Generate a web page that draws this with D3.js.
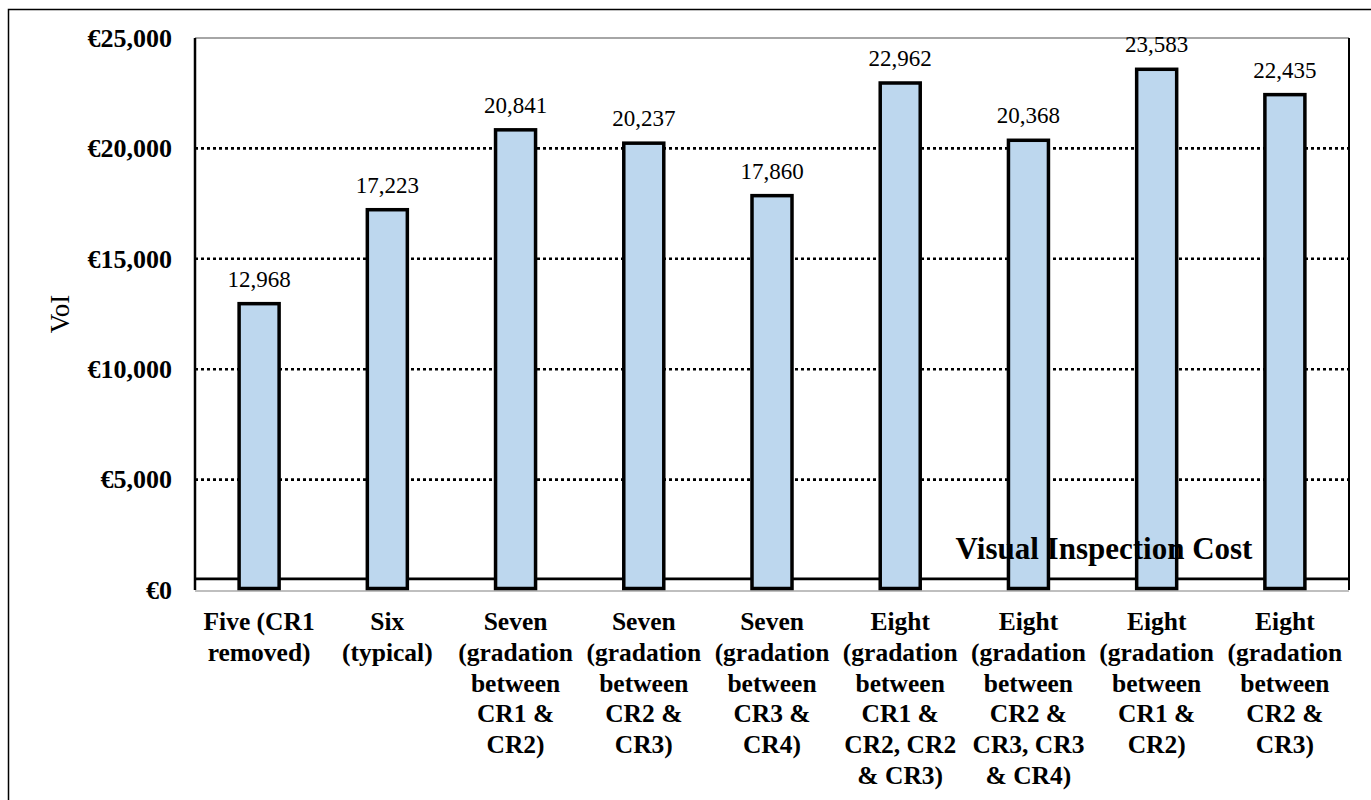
<!DOCTYPE html>
<html>
<head>
<meta charset="utf-8">
<script src="https://cdn.jsdelivr.net/npm/d3@7"></script>
<style>
  html, body { margin: 0; padding: 0; background: #fff; }
  svg { display: block; }
  svg text { font-family: "Liberation Serif", serif; }
</style>
</head>
<body>
<svg id="chart" width="1371" height="800"></svg>
<script>
// ---- data ----
const categories = [
  "Five (CR1 removed)",
  "Six (typical)",
  "Seven (gradation between CR1 & CR2)",
  "Seven (gradation between CR2 & CR3)",
  "Seven (gradation between CR3 & CR4)",
  "Eight (gradation between CR1 & CR2, CR2 & CR3)",
  "Eight (gradation between CR2 & CR3, CR3 & CR4)",
  "Eight (gradation between CR1 & CR2)",
  "Eight (gradation between CR2 & CR3)"
];
const categoryLines = [
  ["Five (CR1", "removed)"],
  ["Six", "(typical)"],
  ["Seven", "(gradation", "between", "CR1 &", "CR2)"],
  ["Seven", "(gradation", "between", "CR2 &", "CR3)"],
  ["Seven", "(gradation", "between", "CR3 &", "CR4)"],
  ["Eight", "(gradation", "between", "CR1 &", "CR2, CR2", "& CR3)"],
  ["Eight", "(gradation", "between", "CR2 &", "CR3, CR3", "& CR4)"],
  ["Eight", "(gradation", "between", "CR1 &", "CR2)"],
  ["Eight", "(gradation", "between", "CR2 &", "CR3)"]
];
const voiValues = [12968, 17223, 20841, 20237, 17860, 22962, 20368, 23583, 22435];
const yTicks = [0, 5000, 10000, 15000, 20000, 25000];
const inspectionCost = 500;
const costLabel = "Visual Inspection Cost";
const yTitle = "VoI";

// ---- layout ----
const FONT = "'Liberation Serif', serif";
const plot = { left: 195, right: 1349, top: 38, bottom: 590 };
const svg = d3.select("#chart");
const root = svg.append("g").attr("font-family", FONT);

// outer frame
root.append("rect")
  .attr("x", 8.5).attr("y", 9.5)
  .attr("width", 1400).attr("height", 900)
  .attr("fill", "none").attr("stroke", "#000").attr("stroke-width", 1.5);

const x = d3.scaleBand()
  .domain(categories)
  .range([plot.left, plot.right])
  .paddingInner(0.688)
  .paddingOuter(0.344);

const y = d3.scaleLinear()
  .domain([0, 25000])
  .range([plot.bottom, plot.top]);

const euro = v => "€" + d3.format(",")(v);

// gridlines (dotted), skip 0 and top
root.append("g")
  .selectAll("line")
  .data(yTicks.filter(t => t > 0 && t < 25000))
  .join("line")
  .attr("x1", plot.left).attr("x2", plot.right)
  .attr("y1", d => y(d)).attr("y2", d => y(d))
  .attr("stroke", "#000").attr("stroke-width", 2.6)
  .attr("stroke-dasharray", "3,3");

// top border (gray)
root.append("line")
  .attr("x1", plot.left).attr("x2", plot.right)
  .attr("y1", y(25000)).attr("y2", y(25000))
  .attr("stroke", "#a6a6a6").attr("stroke-width", 2);

// right border
root.append("line")
  .attr("x1", plot.right).attr("x2", plot.right)
  .attr("y1", y(25000)).attr("y2", y(0))
  .attr("stroke", "#000").attr("stroke-width", 2);

// bottom axis line (gray)
root.append("line")
  .attr("x1", plot.left).attr("x2", plot.right)
  .attr("y1", y(0) + 1).attr("y2", y(0) + 1)
  .attr("stroke", "#bfbfbf").attr("stroke-width", 2);

// inspection cost line
root.append("line")
  .attr("x1", plot.left).attr("x2", plot.right)
  .attr("y1", y(inspectionCost)).attr("y2", y(inspectionCost))
  .attr("stroke", "#000").attr("stroke-width", 2.7);

// y axis line
root.append("line")
  .attr("x1", plot.left).attr("x2", plot.left)
  .attr("y1", y(25000)).attr("y2", y(0))
  .attr("stroke", "#000").attr("stroke-width", 2.5);

// bars
root.append("g")
  .selectAll("rect")
  .data(voiValues)
  .join("rect")
  .attr("x", (d, i) => x(categories[i]))
  .attr("y", d => y(d))
  .attr("width", x.bandwidth())
  .attr("height", d => y(0) - y(d) - 1.5)
  .attr("fill", "#BDD7EE")
  .attr("stroke", "#000")
  .attr("stroke-width", 3.5);

// cost label
root.append("text")
  .attr("x", 1104).attr("y", 559)
  .attr("text-anchor", "middle")
  .attr("font-family", FONT)
  .attr("font-weight", "bold")
  .attr("font-size", 31)
  .text(costLabel);

// data labels
root.append("g")
  .selectAll("text")
  .data(voiValues)
  .join("text")
  .attr("x", (d, i) => x(categories[i]) + x.bandwidth() / 2)
  .attr("y", d => y(d) - 17)
  .attr("text-anchor", "middle")
  .attr("font-family", FONT)
  .attr("font-size", 23)
  .text(d => d3.format(",")(d));

// y axis tick labels
const yAxis = d3.axisLeft(y).tickValues(yTicks).tickFormat(euro).tickSize(0).tickPadding(23);
const gy = root.append("g").attr("transform", `translate(${plot.left},0)`).call(yAxis);
gy.attr("font-family", FONT);
gy.select(".domain").remove();
gy.selectAll("text")
  .attr("font-family", FONT)
  .attr("font-size", 26)
  .attr("font-weight", "bold")
  .attr("fill", "#000");

// y title
root.append("text")
  .attr("transform", `translate(69,${(plot.top + plot.bottom) / 2}) rotate(-90)`)
  .attr("text-anchor", "middle")
  .attr("font-family", FONT)
  .attr("font-size", 27)
  .text(yTitle);

// category labels
const catG = root.append("g");
categories.forEach((c, i) => {
  const t = catG.append("text")
    .attr("x", x(c) + x.bandwidth() / 2)
    .attr("y", 630)
    .attr("text-anchor", "middle")
    .attr("font-family", FONT)
    .attr("font-weight", "bold")
    .attr("font-size", 25.5);
  categoryLines[i].forEach((line, k) => {
    t.append("tspan")
      .attr("x", x(c) + x.bandwidth() / 2)
      .attr("y", 630 + k * 30.8)
      .attr("font-family", FONT)
      .text(line);
  });
});
</script>
</body>
</html>
